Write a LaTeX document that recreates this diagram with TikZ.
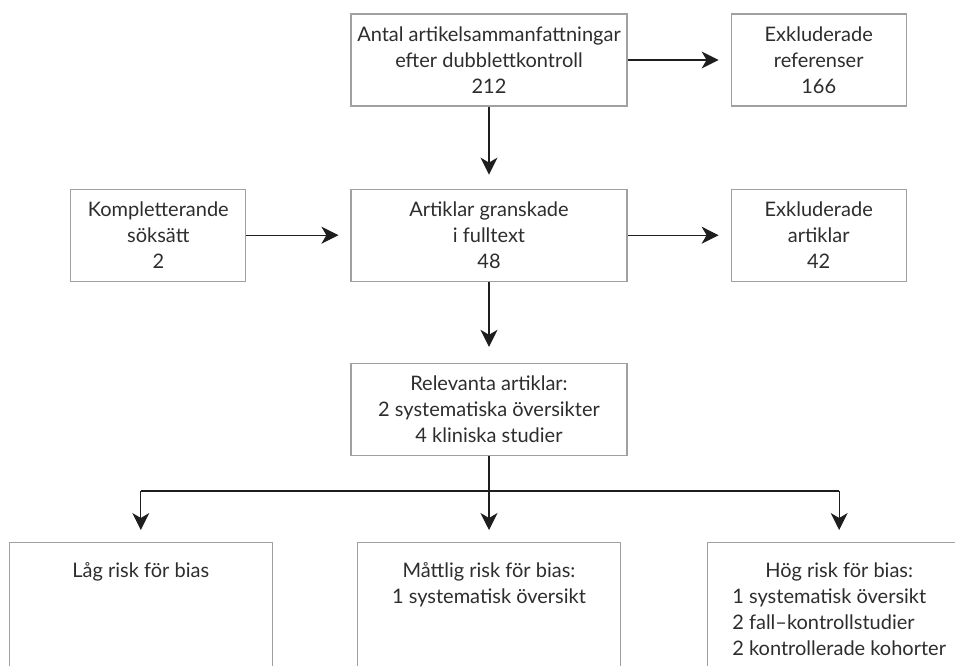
\documentclass[tikz,border=0pt]{standalone}
\usepackage{fontspec}
\setmainfont{Lato}
\usetikzlibrary{positioning, arrows.meta}
\definecolor{T}{RGB}{45,45,45}
\definecolor{L}{RGB}{160,160,160}
\definecolor{K}{RGB}{30,30,30}
\tikzstyle{box} = [rectangle,
draw=L, line width=1.2pt,
text=T, align=center,
font=\fontsize{20}{26}\selectfont,
inner sep=0pt,
minimum width=276pt,
minimum height=92pt]
\tikzstyle{sidebox} = [box, minimum width=175pt]
\tikzstyle{riskbox} = [box, minimum width=263pt, anchor=north, inner ysep=14pt]
\tikzstyle{arrow} = [-{Stealth[length=17pt, width=17pt, inset=5pt]},
line width=1.1pt, draw=K, shorten >=12pt]
% top aligned text, the box runs off the page
\newcommand{\riskcell}[1]{\parbox[t][170pt][t]{250pt}{\centering\rule{0pt}{21pt}#1}}

\begin{document}
\begin{tikzpicture}[x=1pt, y=1pt]
  \useasboundingbox (0,0) rectangle (955,-666);
  \clip (0,0) rectangle (955,-666);

  \node[box] (abs) at (489,-60) {Antal artikelsammanfattningar\\efter dubblettkontroll\\212};
  \node[sidebox, right=103pt of abs]  (exref) {Exkluderade\\referenser\\166};
  \node[box, below=82pt of abs]       (full)  {Artiklar granskade\\i fulltext\\48};
  \node[sidebox, left=104pt of full]  (extra) {Kompletterande\\söksätt\\2};
  \node[sidebox, right=103pt of full] (exart) {Exkluderade\\artiklar\\42};
  \node[box, below=81pt of full]      (rel)   {Relevanta artiklar:\\2 systematiska översikter\\4 kliniska studier};

  \node[riskbox, below=86pt of rel]  (mid)  {\riskcell{Måttlig risk för bias:\\1 systematisk översikt}};
  \node[riskbox, left=84pt of mid]   (low)  {\riskcell{Låg risk för bias}};
  \node[riskbox, right=86pt of mid]  (high) {\riskcell{Hög risk för bias:\\
    \begin{tabular}[t]{@{}l@{}}1 systematisk översikt\\2 fall--kontrollstudier\\2 kontrollerade kohorter\end{tabular}}};

  \coordinate[below=35pt of rel] (split);

  \draw[arrow] (abs) -- (exref);
  \draw[arrow, shorten >=14pt] (abs) -- (full);
  \draw[arrow] (extra) -- (full);
  \draw[arrow] (full) -- (exart);
  \draw[arrow, shorten >=16pt] (full) -- (rel);
  \draw[arrow] (rel) -- (mid);
  \draw[line width=1.1pt, draw=K] (low |- split) -- (high |- split);
  \draw[arrow] (low |- split) -- (low);
  \draw[arrow] (high |- split) -- (high);
\end{tikzpicture}
\end{document}
